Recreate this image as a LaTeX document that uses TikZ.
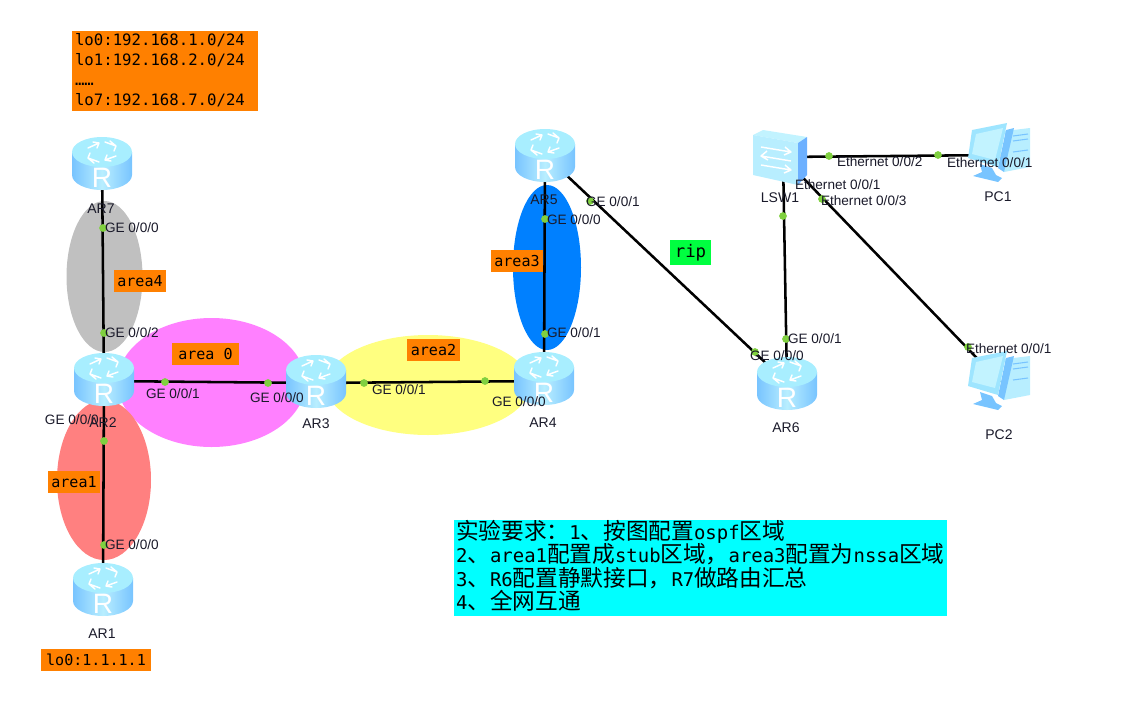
\documentclass[tikz,border=0pt]{standalone}
\usepackage{fontspec}
\setmainfont{Liberation Sans}
\newfontfamily\cjkfam{Noto Sans CJK SC}
\newfontfamily\monofam{DejaVu Sans Mono}
\definecolor{tagorange}{HTML}{FF8000}
\definecolor{dotgreen}{HTML}{80D040}
\definecolor{toplight}{HTML}{A8EEFF}
\definecolor{sidelight}{HTML}{B8EEFF}
\definecolor{sideblue}{HTML}{78C4FF}
\definecolor{txt}{HTML}{1A1A2A}
\definecolor{agray}{HTML}{C0C0C0}
\definecolor{apink}{HTML}{FF80FF}
\definecolor{ayellow}{HTML}{FFFF80}
\definecolor{ablue}{HTML}{0080FF}
\definecolor{ared}{HTML}{FF8080}
\definecolor{ripgreen}{HTML}{00FF40}
\definecolor{reqcyan}{HTML}{00FFFF}
\newcommand{\mx}[1]{{\monofam\fontsize{14.2pt}{17.6pt}\selectfont #1}}
\tikzset{
  every node/.style={inner sep=0pt, outer sep=0pt},
  link/.style={line width=1.9pt, black},
  anchorpt/.style={minimum size=0pt},
  port/.style={circle, fill=dotgreen, minimum size=5.8pt},
  plabel/.style={anchor=west, text=txt, font=\fontsize{10.2pt}{12pt}\selectfont},
  devlabel/.style={text=txt, font=\fontsize{10.5pt}{12pt}\selectfont},
  tagbox/.style={fill=tagorange, text=black, minimum height=16.5pt, font=\monofam\fontsize{11.3pt}{13pt}\selectfont},
  routericon/.pic={
    \path[left color=sideblue, right color=sideblue, middle color=sidelight]
      (-30,-11) -- (-30,12) arc[x radius=30, y radius=15, start angle=180, end angle=0] -- (30,-11) -- cycle;
    \fill[toplight] (0,-11) ellipse[x radius=30, y radius=15];
    \begin{scope}[white, line width=1.1pt, line cap=round, line join=round]
      \draw (-14,-15) -- (-3,-20) (-9,-21) -- (-3,-20) -- (-5,-15);
      \draw (14,-17) -- (3,-21) (8,-22) -- (14,-17) -- (12,-12);
      \draw (14,-7) -- (3,-3) (9,-2) -- (3,-3) -- (5,-8);
      \draw (-14,-5) -- (-3,-1) (-8,0) -- (-14,-5) -- (-12,-10);
    \end{scope}
    \node[text=white, font=\fontsize{21pt}{21pt}\selectfont] at (0,15) {R};
  },
  switchicon/.pic={
    \fill[toplight!70!white] (-20,-27) -- (24,-20) -- (15,-14) -- (-30,-22) -- cycle;
    \fill[sidelight] (-30,-22) -- (15,-14) -- (15,28) -- (-30,18) -- cycle;
    \fill[sideblue!90!blue] (15,-14) -- (24,-20) -- (24,18) -- (15,28) -- cycle;
    \begin{scope}[white, line width=1.1pt, line join=round]
      \draw (-22,-10) -- (8,-5) (2,-10) -- (8,-5) -- (1,-2);
      \draw (8,4) -- (-22,-1) (-16,-6) -- (-22,-1) -- (-15,3);
      \draw (-22,8) -- (8,13) (2,8) -- (8,13) -- (1,16);
    \end{scope}
  },
  pcicon/.pic={
    \fill[sidelight] (37,9) -- (62,6) -- (62,45) -- (36,50) -- cycle;
    \draw[sideblue, line width=.8pt] (45,14) -- (60,12) (45,19) -- (60,17) (45,30) -- (60,28);
    \fill[sideblue] (38,8) -- (46,6) -- (36,50) -- (30,46) -- cycle;
    \fill[toplight!80!sideblue] (4,8) -- (39,1) -- (30,45) -- (0,36) -- cycle;
    \fill[white!30!toplight] (8,12) -- (35,6) -- (27,38) -- (4,32) -- cycle;
    \fill[sideblue] (12,42) -- (24,46) -- (28,53) -- (34,56) -- (30,60) -- (5,54) -- (14,50) -- cycle;
  }
}
\begin{document}
\begin{tikzpicture}[x=0.75pt, y=-0.75pt]
\useasboundingbox (0,0) rectangle (1129,701);
% areas
\fill[agray] (104.5,276.5) ellipse[x radius=38, y radius=75.5];
\fill[apink] (211.5,382.5) ellipse[x radius=94, y radius=64.5];
\fill[ayellow] (428,385) ellipse[x radius=102, y radius=50];
\fill[ablue] (547,267.5) ellipse[x radius=34, y radius=82.5];
\fill[ared] (104,480) ellipse[x radius=47, y radius=80];
% anchors
\node[anchorpt] (ar7) at (102,163) {};
\node[anchorpt] (ar2) at (104,381) {};
\node[anchorpt] (ar3) at (316,383) {};
\node[anchorpt] (ar4) at (544,381) {};
\node[anchorpt] (ar5) at (545,155) {};
\node[anchorpt] (ar6) at (787,383) {};
\node[anchorpt] (ar1) at (103,589) {};
\node[anchorpt] (sw) at (783,157) {};
\node[anchorpt] (pc1) at (1000,155) {};
\node[anchorpt] (pc2) at (1000,382) {};
% connectors
\draw[link] (ar7.center) -- (ar2.center);
\draw[link] (ar2.center) -- (ar1.center);
\draw[link] (ar2.center) -- (ar3.center);
\draw[link] (ar3.center) -- (ar4.center);
\draw[link] (ar4.center) -- (ar5.center);
\draw[link] (ar5.center) -- (ar6.center);
\draw[link] (ar6.center) -- (sw.center);
\draw[link] (sw.center) -- (pc1.center);
\draw[link] (sw.center) -- (pc2.center);
% icons
\pic at (ar7) {routericon};
\pic[yshift=1.5pt] at (ar2) {routericon};
\pic[yshift=1.5pt] at (ar3) {routericon};
\pic[yshift=2.25pt] at (ar4) {routericon};
\pic at (ar5) {routericon};
\pic at (ar6) {routericon};
\pic at (ar1) {routericon};
\pic at (sw) {switchicon};
\pic at (968,122) {pcicon};
\pic at (968,350) {pcicon};
% ports
\foreach \n/\p in {p1/{103,228},p2/{104,333},p3/{165,382},p4/{268,383},p5/{364,383},p6/{485,381},p7/{545,334},p8/{545,219},p9/{104,441},p10/{104,545},p11/{590,201},p12/{755,352},p13/{786,339},p14/{783,216},p15/{829,156},p16/{938,155},p17/{822,199},p18/{968,347}}
  \node[port] (\n) at (\p) {};
% port labels
\node[plabel] (l1) at (105,228) {GE 0/0/0};
\node[plabel] (l2) at (105,333) {GE 0/0/2};
\node[plabel] (l3) at (45,420) {GE 0/0/0};
\node[plabel] (l4) at (105,545) {GE 0/0/0};
\node[plabel] (l5) at (146,394) {GE 0/0/1};
\node[plabel] (l6) at (250,398) {GE 0/0/0};
\node[plabel] (l7) at (372,390) {GE 0/0/1};
\node[plabel] (l8) at (492,402) {GE 0/0/0};
\node[plabel] (l9) at (547,220) {GE 0/0/0};
\node[plabel] (l10) at (547,333) {GE 0/0/1};
\node[plabel] (l11) at (586,202) {GE 0/0/1};
\node[plabel] (l12) at (750,356) {GE 0/0/0};
\node[plabel] (l13) at (788,339) {GE 0/0/1};
\node[plabel] (l14) at (837,162) {Ethernet 0/0/2};
\node[plabel] (l15) at (947,163) {Ethernet 0/0/1};
\node[plabel] (l16) at (795,185) {Ethernet 0/0/1};
\node[plabel] (l17) at (821,201) {Ethernet 0/0/3};
\node[plabel] (l18) at (966,349) {Ethernet 0/0/1};
% device labels
\node[devlabel] (n7) at (101,209) {AR7};
\node[devlabel] (n2) at (103,423) {AR2};
\node[devlabel] (n3) at (316,424) {AR3};
\node[devlabel] (n4) at (543,423) {AR4};
\node[devlabel] (n5) at (544,200) {AR5};
\node[devlabel] (n6) at (786,428) {AR6};
\node[devlabel] (n1) at (102,634) {AR1};
\node[devlabel] (nsw) at (780,198) {LSW1};
\node[devlabel] (npc1) at (998,197) {PC1};
\node[devlabel] (npc2) at (999,435) {PC2};
% tags
\node[tagbox, minimum width=39pt] (t4) at (140,281) {area4};
\node[tagbox, minimum width=50pt] (t0) at (205.5,354) {area 0};
\node[tagbox, minimum width=39.5pt] (t2) at (433.5,350) {area2};
\node[tagbox, minimum width=39pt] (t3) at (517,261) {area3};
\node[tagbox, minimum width=39pt] (t1) at (74,482) {area1};
\node[tagbox, minimum width=82.5pt] (t5) at (96,660) {lo0:1.1.1.1};
\node[fill=ripgreen, text=black, minimum width=31pt, minimum height=19pt, font=\monofam\fontsize{13pt}{14pt}\selectfont] (trip) at (690.5,252.5) {rip};
\node[fill=tagorange, anchor=north west, minimum width=139.5pt, minimum height=60pt] (tlo) at (72,31) {};
\node[text=black, anchor=west, font=\monofam\fontsize{11.76pt}{15pt}\selectfont] (tlotxt) at (75,71) {%
  \begin{tabular}{@{}l@{}}lo0:192.168.1.0/24\\lo1:192.168.2.0/24\\……\\lo7:192.168.7.0/24\end{tabular}};
\node[fill=reqcyan, anchor=north west, minimum width=369.75pt, minimum height=72pt, text=black] (req) at (454,520) {};
\node[anchor=north west, align=left, text=black, font=\cjkfam\fontsize{17pt}{17.6pt}\selectfont] (reqtxt) at (456,520) {%
  实验要求：\mx{1}、按图配置\mx{ospf}区域\\
  \mx{2}、\mx{area1}配置成\mx{stub}区域，\mx{area3}配置为\mx{nssa}区域\\
  \mx{3}、\mx{R6}配置静默接口，\mx{R7}做路由汇总\\
  \mx{4}、全网互通};
\end{tikzpicture}
\end{document}
